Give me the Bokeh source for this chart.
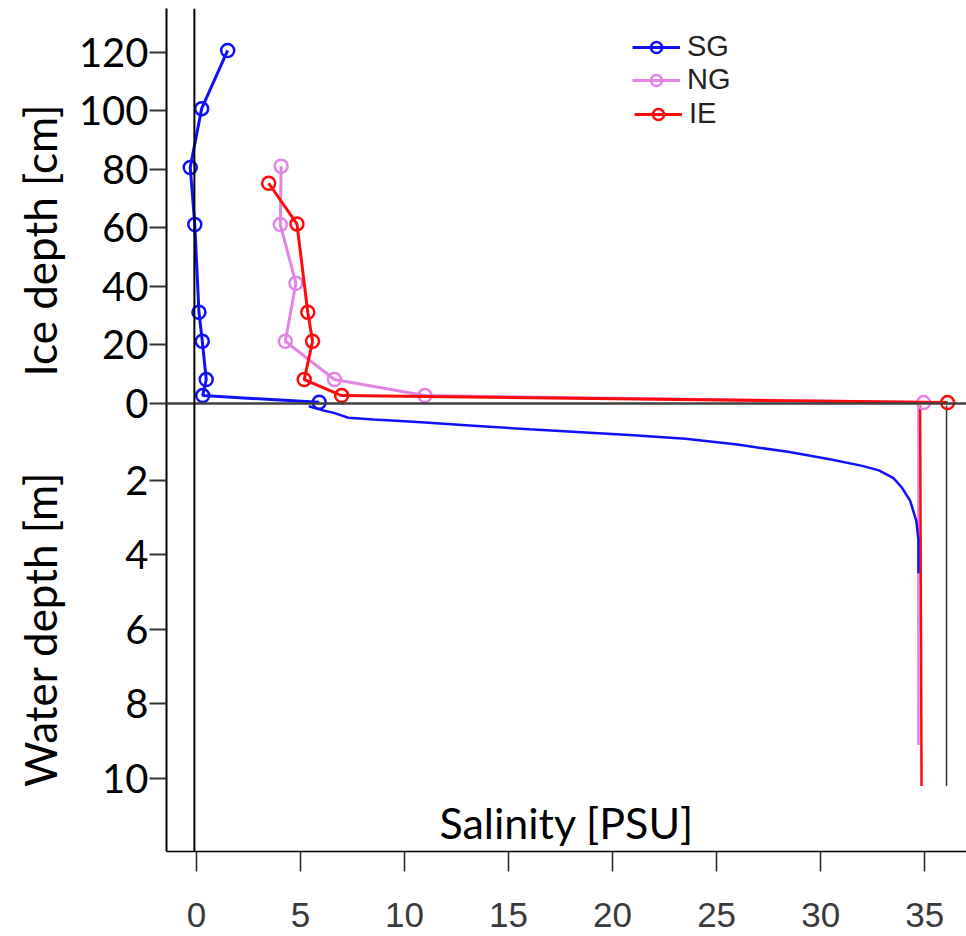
import math
from bokeh.plotting import figure
from bokeh.layouts import row
from bokeh.models import (Range1d, LinearAxis, FixedTicker, Span, Label,
                          Legend, LegendItem)
from bokeh.core.properties import value
from bokeh.embed import file_html
from bokeh.resources import INLINE

# ---------------- data ----------------
# Ice cores: depth in ice [cm] vs salinity [PSU]
sg_ice_depth = [120.7, 100.8, 80.7, 61.2, 31.2, 21.3, 8.2, 2.7, 0.4]
sg_ice_sal = [1.5, 0.25, -0.3, -0.08, 0.12, 0.28, 0.47, 0.3, 5.9]

ng_ice_depth = [81.1, 61.2, 41.1, 21.3, 8.2, 2.7, 0.3]
ng_ice_sal = [4.07, 4.03, 4.78, 4.27, 6.63, 10.98, 34.95]

ie_ice_depth = [75.3, 61.4, 31.2, 21.3, 8.2, 2.7, 0.3]
ie_ice_sal = [3.47, 4.83, 5.35, 5.58, 5.18, 6.98, 36.1]

# Water column: depth [m] vs salinity [PSU]
sg_w_depth = [0.02, 0.12, 0.2, 0.33, 0.38, 0.42, 0.46, 0.55, 0.64, 0.72, 0.8,
              0.89, 1.05, 1.25, 1.45, 1.62, 1.74, 1.95, 2.2, 2.55, 3.1, 3.6, 4.5]
sg_w_sal = [5.4, 6.0, 6.6, 7.3, 8.5, 9.8, 11.0, 13.5, 16.0, 18.5, 21.0,
            23.5, 26.0, 28.5, 30.5, 32.0, 32.8, 33.5, 33.9, 34.3, 34.6, 34.7, 34.7]

ng_w_depth = [0.0, 9.1]
ng_w_sal = [34.7, 34.7]

ie_w_depth = [0.0, 10.2]
ie_w_sal = [34.78, 34.85]

# tick labels
ice_ticks = [0, 20, 40, 60, 80, 100, 120]
water_ticks = [2, 4, 6, 8, 10]
sal_ticks = [0, 5, 10, 15, 20, 25, 30, 35]

series_names = ["SG", "NG", "IE"]
series_colors = ["#1010ff", "#e383e3", "#ff0a0a"]

ice_title = "Ice depth [cm]"
water_title = "Water depth [m]"
sal_title = "Salinity [PSU]"

# ---------------- ranges ----------------
SAL_RANGE = (-1.44, 37.01)
ICE_RANGE = (-153.16, 135.04)      # bottom, top of frame (cm)
WATER_RANGE = (11.957, -10.64)     # bottom, top of frame (m), reversed
RIGHT_FRAME_SAL = 36.05
RIGHT_FRAME_DEPTH = 10.2

ice_range = Range1d(*ICE_RANGE)
water_range = Range1d(*WATER_RANGE)

TOP, BOTTOM = 8, 85
LEFT_W = 70

p = figure(width=966 - LEFT_W, height=936, output_backend="svg", toolbar_location=None,
           x_range=Range1d(*SAL_RANGE), y_range=ice_range,
           x_axis_location=None, y_axis_location=None,
           min_border_left=166 - LEFT_W, min_border_right=0, min_border_top=TOP,
           min_border_bottom=BOTTOM)
p.extra_y_ranges = {"water": water_range}
p.grid.visible = False
p.outline_line_color = None


def water_to_ice(w):
    frac = (w - WATER_RANGE[0]) / (WATER_RANGE[1] - WATER_RANGE[0])
    return round(ICE_RANGE[0] + frac * (ICE_RANGE[1] - ICE_RANGE[0]), 4)


left_positions = [float(t) for t in ice_ticks] + [water_to_ice(w) for w in water_ticks]
left_labels = [str(t) for t in ice_ticks] + [str(w) for w in water_ticks]

yaxis = LinearAxis(ticker=FixedTicker(ticks=left_positions),
                   major_label_overrides=dict(zip(left_positions, left_labels)))
yaxis.axis_line_width = 2
yaxis.axis_line_color = "black"
yaxis.major_tick_out = 17
yaxis.major_tick_in = 0
yaxis.minor_tick_out = 0
yaxis.minor_tick_in = 0
yaxis.major_tick_line_width = 2
yaxis.major_tick_line_color = "#333333"
yaxis.major_label_text_font = "Lato"
yaxis.major_label_text_font_size = "40px"
yaxis.major_label_text_color = "black"
yaxis.major_label_standoff = 1
p.add_layout(yaxis, "left")

xaxis = LinearAxis(ticker=FixedTicker(ticks=sal_ticks))
xaxis.axis_line_width = 1.5
xaxis.axis_line_color = "black"
xaxis.major_tick_out = 20
xaxis.major_tick_in = 0
xaxis.minor_tick_out = 0
xaxis.minor_tick_in = 0
xaxis.major_tick_line_width = 1.5
xaxis.major_tick_line_color = "#222222"
xaxis.major_label_text_font = "Liberation Sans"
xaxis.major_label_text_font_size = "35px"
xaxis.major_label_text_color = "#3a3a3a"
xaxis.major_label_standoff = 31
p.add_layout(xaxis, "below")

# reference lines
p.add_layout(Span(location=0, dimension="width", line_color="#404040", line_width=2.5))
p.add_layout(Span(location=-0.1, dimension="height", line_color="black", line_width=2))
p.segment(x0=[RIGHT_FRAME_SAL], y0=[0], x1=[RIGHT_FRAME_SAL], y1=[RIGHT_FRAME_DEPTH],
          y_range_name="water", line_color="#333333", line_width=1.5)

# water profiles (drawn first, under ice lines)
p.line(ng_w_sal, ng_w_depth, y_range_name="water", line_color=series_colors[1], line_width=2.5)
p.line(ie_w_sal, ie_w_depth, y_range_name="water", line_color=series_colors[2], line_width=2.5)
p.line(sg_w_sal, sg_w_depth, y_range_name="water", line_color=series_colors[0], line_width=2.5)

ice = [(sg_ice_sal, sg_ice_depth), (ng_ice_sal, ng_ice_depth), (ie_ice_sal, ie_ice_depth)]
# one legend per entry so the rows can sit as tightly as in the original
legend_locs = [(466, 788), (466, 755), (468, 721)]
for name, color, (xs, ys), loc in zip(series_names, series_colors, ice, legend_locs):
    lr = p.line(xs, ys, line_color=color, line_width=3)
    sr = p.scatter(xs, ys, marker="circle", size=13, line_color=color, line_width=2.5,
                   fill_color=None)
    lg = Legend(items=[LegendItem(label=name, renderers=[lr, sr])], location=loc)
    lg.glyph_width = 48
    lg.glyph_height = 28
    lg.label_text_font = "Liberation Sans"
    lg.label_text_font_size = "29px"
    lg.label_text_color = "#222222"
    lg.label_standoff = 7
    lg.label_height = 28
    lg.padding = 0
    lg.margin = 0
    lg.border_line_alpha = 0
    lg.background_fill_alpha = 0
    p.add_layout(lg, "center")

p.add_layout(Label(x=17.8, y=11.18, y_range_name="water", text=sal_title,
                   text_align="center", text_baseline="middle",
                   text_font="Lato", text_font_size="43px", text_color="black"))

# left strip holding the two rotated axis titles, sharing the vertical ranges
t = figure(width=LEFT_W, height=936, output_backend="svg", toolbar_location=None,
           x_range=Range1d(0, LEFT_W), y_range=ice_range,
           x_axis_location=None, y_axis_location=None,
           min_border_left=0, min_border_right=0, min_border_top=TOP,
           min_border_bottom=BOTTOM)
t.extra_y_ranges = {"water": water_range}
t.grid.visible = False
t.outline_line_color = None
t.text(x=[39], y=[55.7], text=[ice_title], angle=math.pi / 2,
       text_align="center", text_baseline="middle",
       text_font=value("Lato"), text_font_size=value("44px"), text_color="black")
t.text(x=[39], y=[6.0], text=[water_title], angle=math.pi / 2, y_range_name="water",
       text_align="center", text_baseline="middle",
       text_font=value("Lato"), text_font_size=value("44px"), text_color="black")

layout = row(t, p, spacing=0)
open("out.html", "w").write(file_html(layout, INLINE))
